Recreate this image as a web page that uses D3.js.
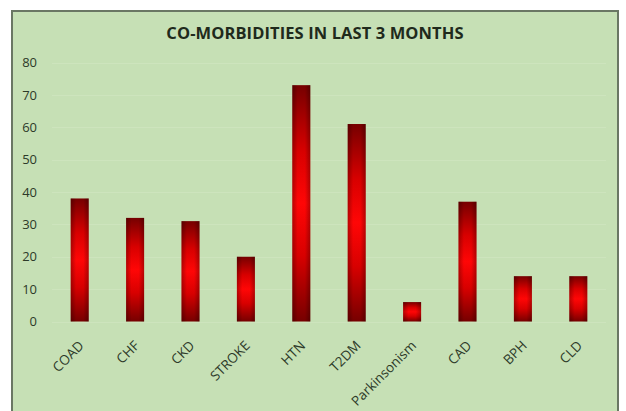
<!DOCTYPE html>
<html>
<head>
<meta charset="utf-8">
<script src="https://cdn.jsdelivr.net/npm/d3@7"></script>
<style>
  html, body { margin: 0; padding: 0; background: #ffffff; }
  svg { display: block; }
</style>
</head>
<body>
<svg id="chart" width="626" height="411"></svg>
<script>
// Co-morbidity counts over the last three months
const categories = ["COAD", "CHF", "CKD", "STROKE", "HTN", "T2DM", "Parkinsonism", "CAD", "BPH", "CLD"];
const counts = [38, 32, 31, 20, 73, 61, 6, 37, 14, 14];
const yTicks = [0, 10, 20, 30, 40, 50, 60, 70, 80];
const title = "CO-MORBIDITIES IN LAST 3 MONTHS";

const svg = d3.select("#chart");
const font = "'Open Sans', 'Liberation Sans', sans-serif";
const textColor = "#2d3a29";

// Chart area frame
svg.append("rect")
  .attr("x", 12).attr("y", 11)
  .attr("width", 606).attr("height", 410)
  .attr("fill", "#c6e0b5")
  .attr("stroke", "#6a7764")
  .attr("stroke-width", 2);

// Bar fill: dark red at top and bottom, bright red through the middle,
// with a light shade toward the side edges
const defs = svg.append("defs");
const vGrad = defs.append("linearGradient")
  .attr("id", "barFill")
  .attr("x1", 0).attr("y1", 0).attr("x2", 0).attr("y2", 1);
[[0, "#760000"], [0.28, "#d80000"], [0.5, "#ff0606"], [0.72, "#d80000"], [1, "#760000"]]
  .forEach(([o, c]) => vGrad.append("stop").attr("offset", o).attr("stop-color", c));
const hGrad = defs.append("linearGradient")
  .attr("id", "barSide")
  .attr("x1", 0).attr("y1", 0).attr("x2", 1).attr("y2", 0);
[[0, 0.28], [0.3, 0], [0.7, 0], [1, 0.28]]
  .forEach(([o, a]) => hGrad.append("stop").attr("offset", o)
    .attr("stop-color", "#000").attr("stop-opacity", a));

const x = d3.scaleBand()
  .domain(categories)
  .range([52, 606])
  .paddingInner(0.675)
  .paddingOuter(0.3375);
const y = d3.scaleLinear()
  .domain([0, 80])
  .range([321.5, 62.5]);

// Faint horizontal gridlines
svg.append("g")
  .selectAll("line")
  .data(yTicks)
  .join("line")
  .attr("x1", 52).attr("x2", 606)
  .attr("y1", d => Math.round(y(d)) + 0.5)
  .attr("y2", d => Math.round(y(d)) + 0.5)
  .attr("stroke", "#cde4bd")
  .attr("stroke-width", 1);

// Title
svg.append("text")
  .attr("x", 315).attr("y", 39)
  .attr("text-anchor", "middle")
  .attr("font-family", font)
  .attr("font-weight", "bold")
  .attr("font-size", 16.5)
  .attr("letter-spacing", 0.1)
  .attr("fill", "#1f2a1c")
  .text(title);

// Y axis (labels only)
const yAxis = svg.append("g")
  .attr("transform", "translate(37,0)")
  .call(d3.axisLeft(y).tickValues(yTicks).tickSize(0).tickPadding(0));
yAxis.select(".domain").remove();
yAxis.selectAll("text")
  .attr("font-family", font)
  .attr("font-size", 13)
  .attr("fill", textColor);

// Bars: base fill plus side shading layer
const bars = svg.append("g")
  .selectAll("g")
  .data(categories)
  .join("g");
["url(#barFill)", "url(#barSide)"].forEach(fill => {
  bars.append("rect")
    .attr("x", d => x(d))
    .attr("y", (d, i) => y(counts[i]))
    .attr("width", x.bandwidth())
    .attr("height", (d, i) => y(0) - y(counts[i]))
    .attr("fill", fill);
});

// X axis (rotated category labels)
const xAxis = svg.append("g")
  .attr("transform", `translate(0,${y(0)})`)
  .call(d3.axisBottom(x).tickSize(0).tickPadding(0));
xAxis.select(".domain").remove();
xAxis.selectAll("text")
  .attr("font-family", font)
  .attr("font-size", 13.5)
  .attr("fill", textColor)
  .attr("text-anchor", "end")
  .attr("dy", 0)
  .attr("transform", "translate(5,25) rotate(-45)");
</script>
</body>
</html>
